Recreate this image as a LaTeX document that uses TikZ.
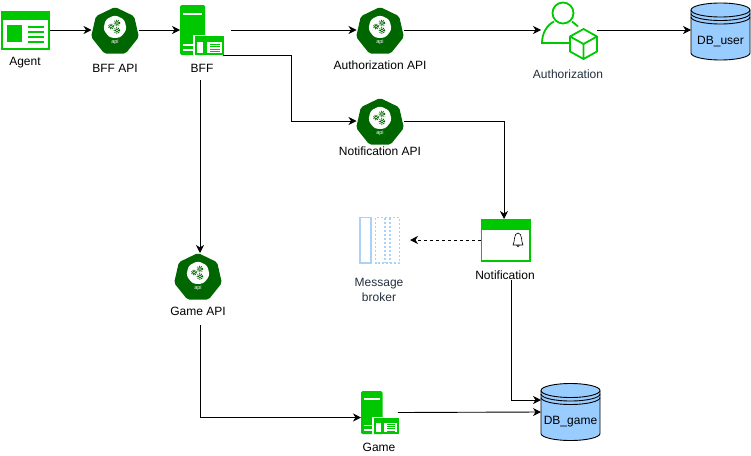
\documentclass[tikz,border=0pt]{standalone}
\usepackage{xcolor}
\usepackage{fontspec}
\setmainfont{Liberation Sans}
\usepackage{tikz}
\usetikzlibrary{calc}
\usetikzlibrary{arrows.meta}
\usetikzlibrary{shapes.geometric}
\definecolor{iconGreen}{HTML}{00C800}
\definecolor{apiGreen}{HTML}{006600}
\definecolor{dbBlue}{HTML}{99CCFF}
\definecolor{brokerBlue}{HTML}{A9D2F6}
\definecolor{awsText}{HTML}{232F3E}
\tikzset{
  frame/.style={rectangle, inner sep=0pt, outer sep=0pt},
  caption/.style={inner sep=0pt, align=center, font=\fontsize{12}{14.5}\selectfont},
  flow/.style={-{Stealth[length=8pt, width=8pt, inset=2.5pt]}, draw=black, line width=0.9pt},
  greenfill/.style={fill=iconGreen, draw=none},
  whitefill/.style={fill=white, draw=none},
}
% #1 name, #2 centre
\newcommand{\apiicon}[2]{
  \node [frame, minimum width=47pt, minimum height=46pt] (#1) at (#2) {};
  \begin{scope}[shift={(#2)}]
    \node [regular polygon, regular polygon sides=7, minimum size=49pt, inner sep=0pt, fill=apiGreen, rounded corners=2pt] (#1hept) at (0,1.5) {};
    \node [regular polygon, regular polygon sides=7, minimum size=24pt, inner sep=0pt, fill=white, rounded corners=3pt] (#1core) at (0,-3) {};
    \foreach \gx/\gy/\gr in {2/-7/2.8, 2/0.5/2.8, -4/-3.5/2.5} {
      \draw [apiGreen, line width=0.7pt] (\gx,\gy) circle (\gr*0.6);
      \draw [apiGreen, line width=1pt, dash pattern=on 0.9pt off 1.1pt] (\gx,\gy) circle (\gr);
    }
    \node [inner sep=0pt, text=white, font=\fontsize{5.5}{5.5}\selectfont] (#1tag) at (0,12.5) {api};
  \end{scope}
}
% #1 name, #2 left top corner of the icon, #3 size of the icon
\newcommand{\servericon}[3]{
  \node [frame, minimum width=#3*43pt, minimum height=#3*50pt, anchor=north west] (#1) at (#2) {};
  \begin{scope}[shift={(#2)}, scale=#3]
    \fill [greenfill, rounded corners=1.5pt] (0,0) rectangle (25,50);
    \fill [whitefill] (3,8) rectangle (22,10);
    \fill [whitefill] (3,39) rectangle (14,41);
    \fill [whitefill] (3,44) rectangle (14,46);
    \fill [whitefill] (13,30) rectangle (44,50);
    \fill [greenfill] (15,31) rectangle (44,50);
    \fill [whitefill] (17,37) rectangle (23,48);
    \fill [whitefill] (27,37) rectangle (42,48);
    \foreach \ly in {38.5,41,43.5,46} {
      \fill [greenfill] (30,\ly) rectangle (40,\ly+1.2);
    }
  \end{scope}
}
% #1 name, #2 centre, #3 text
\newcommand{\dbicon}[3]{
  \node [frame, minimum width=59pt, minimum height=57pt] (#1) at (#2) {};
  \begin{scope}[shift={(#2)}]
    \draw [black, fill=dbBlue, line width=0.9pt] (-29.5,-21.5) -- (-29.5,21.5) arc [start angle=180, end angle=0, x radius=29.5, y radius=7] -- (29.5,-21.5) arc [start angle=0, end angle=-180, x radius=29.5, y radius=7] -- cycle;
    \foreach \ay in {-21.5,-18,-14.5} {
      \draw [black, line width=0.9pt] (-29.5,\ay) arc [start angle=180, end angle=0, x radius=29.5, y radius=7];
    }
    \node [caption] (#1text) at (0,10) {#3};
  \end{scope}
}
\begin{document}
\begin{tikzpicture}[x=1pt, y=-1pt]
\useasboundingbox (0,0) rectangle (751,455);
% agent
\node [frame, minimum width=49pt, minimum height=39pt] (Agent) at (25.5,30) {};
\fill [greenfill] (1,11) rectangle (50,50);
\fill [whitefill] (3,20) rectangle (48,48);
\fill [greenfill] (7,25) rectangle (22,42);
\foreach \ly in {27,32,37,42} {
  \fill [greenfill] (28,\ly-1) rectangle (44,\ly+1);
}
\node [caption] (AgentText) at (25,63) {Agent};
% api icons
\apiicon{BFFAPI}{115,30}
\node [caption] (BFFAPIText) at (115,68) {BFF API};
\apiicon{AuthAPI}{380,30}
\node [caption] (AuthAPIText) at (380,65) {Authorization API};
\apiicon{NotifAPI}{380,121}
\node [caption] (NotifAPIText) at (380,151) {Notification API};
\apiicon{GameAPI}{198,276}
\node [caption] (GameAPIText) at (198,311) {Game API};
% servers
\servericon{BFF}{180,5}{1}
\node [caption] (BFFText) at (202,68) {BFF};
\servericon{Game}{361,391}{0.86}
\node [caption] (GameText) at (379,447) {Game};
% authorization
\node [frame, minimum width=56pt, minimum height=58pt] (Auth) at (569,30) {};
\draw [iconGreen, line width=1.8pt] (563,13) circle (10.5);
\draw [iconGreen, line width=1.8pt] (569,43) -- (542,43) .. controls (542,33) and (547,25) .. (554,21.5);
\draw [iconGreen, line width=1.8pt] (572,21.5) -- (578,26.5);
\draw [iconGreen, line width=1.8pt, line join=round] (583.5,29) -- (597,36.5) -- (597,51.5) -- (583.5,59) -- (570,51.5) -- (570,36.5) -- cycle (570,36.5) -- (583.5,44) -- (597,36.5) (583.5,44) -- (583.5,59);
\node [caption, text=awsText] (AuthText) at (568,74) {Authorization};
% databases
\dbicon{DBuser}{720.5,31.5}{DB\_user}
\dbicon{DBgame}{570.5,412}{DB\_game}
% notification
\node [frame, minimum width=49pt, minimum height=42pt, fill=white] (Notif) at (505.5,240) {};
\draw [iconGreen, line width=1.8pt] (481.5,219.5) rectangle (530,261);
\fill [greenfill] (481,219) rectangle (530.5,230);
\draw [black, line width=0.6pt, line join=round] (513,245) .. controls (515,242) and (513.5,233) .. (518,233) .. controls (522.5,233) and (521,242) .. (523,245) -- cycle (516.5,245) .. controls (517,247.5) and (519,247.5) .. (519.5,245);
\node [caption] (NotifText) at (505,275) {Notification};
% message broker
\node [frame, minimum width=41pt, minimum height=46pt] (Broker) at (379.5,240) {};
\draw [brokerBlue, line width=1.8pt] (360,217.5) rectangle (371,263);
\draw [brokerBlue, line width=1.8pt, dash pattern=on 2pt off 2pt] (375.5,217.5) rectangle (399.5,263) (385,217.5) -- (385,263) (390,217.5) -- (390,263);
\node [caption, text=awsText] (BrokerText) at (379,290) {Message\\broker};
% free ends
\coordinate (BFFright) at (231,30);
\coordinate (BFFdown) at (200,80);
\coordinate (BFFturn) at (291,121);
\coordinate (NotifTurn) at (504,121);
\coordinate (NotifDown) at (511,280);
\coordinate (GameAPIDown) at (200,325);
% connectors
\draw [flow] (Agent.east) to (BFFAPI.west);
\draw [flow] (BFFAPI.east) to (BFF.west);
\draw [flow] (BFFright) to (AuthAPI.west);
\draw [flow] (AuthAPI.east) to (Auth.west);
\draw [flow] (Auth.east) to (DBuser.west |- Auth.east);
\draw [flow] (BFF.south east) -| (BFFturn) -- (NotifAPI.west);
\draw [flow] (NotifAPI.east) -- (NotifTurn) -- (NotifTurn |- Notif.north);
\draw [flow] (BFFdown) -- (BFFdown |- GameAPI.north);
\draw [flow] (GameAPIDown) |- ([yshift=-5pt]Game.west);
\draw [flow, dashed] (Notif.west) -- ([xshift=10pt]Broker.east);
\draw [flow] (NotifDown) |- ([yshift=12pt]DBgame.west);
\draw [flow] (Game.east) to (DBgame.west);
\end{tikzpicture}
\end{document}
